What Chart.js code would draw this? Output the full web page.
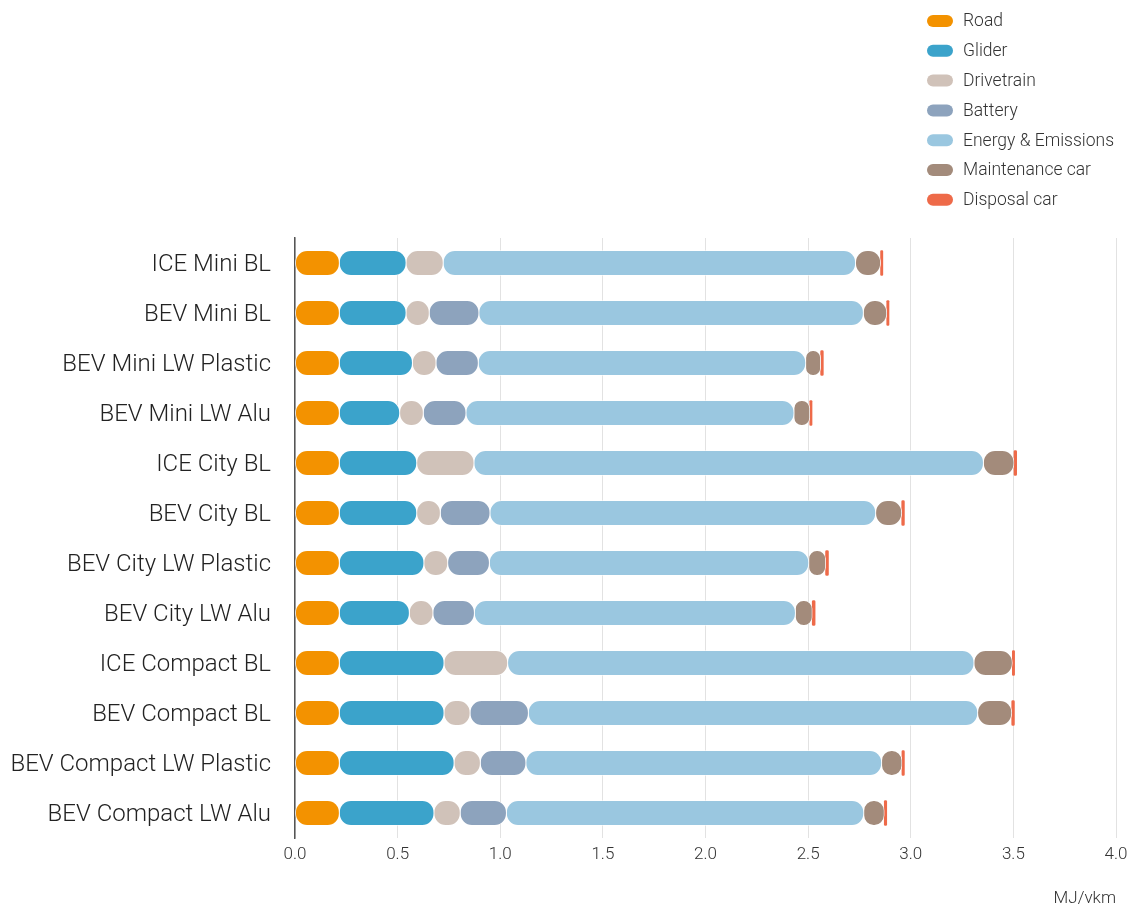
<!DOCTYPE html>
<html>
<head>
<meta charset="utf-8">
<script src="https://cdn.jsdelivr.net/npm/chart.js"></script>
<style>
  html, body { margin: 0; padding: 0; background: #fff; }
  #wrap { position: relative; width: 1129px; height: 907px; }
</style>
</head>
<body>
<div id="wrap"><canvas id="energyChart" width="1129" height="907"></canvas></div>
<script>
// vehicle variants (y axis)
const categories = [
  "ICE Mini BL", "BEV Mini BL", "BEV Mini LW Plastic", "BEV Mini LW Alu",
  "ICE City BL", "BEV City BL", "BEV City LW Plastic", "BEV City LW Alu",
  "ICE Compact BL", "BEV Compact BL", "BEV Compact LW Plastic", "BEV Compact LW Alu"
];

// MJ/vkm per life-cycle stage
const road        = [0.216, 0.216, 0.216, 0.216, 0.216, 0.216, 0.216, 0.216, 0.216, 0.216, 0.216, 0.216];
const glider      = [0.325, 0.325, 0.356, 0.294, 0.377, 0.377, 0.412, 0.341, 0.510, 0.510, 0.559, 0.461];
const drivetrain  = [0.181, 0.113, 0.115, 0.115, 0.279, 0.115, 0.116, 0.115, 0.310, 0.127, 0.128, 0.128];
const battery     = [0, 0.242, 0.206, 0.208, 0, 0.242, 0.203, 0.202, 0, 0.284, 0.222, 0.225];
const energy      = [2.009, 1.873, 1.595, 1.598, 2.482, 1.879, 1.556, 1.564, 2.272, 2.189, 1.733, 1.741];
const maintenance = [0.122, 0.114, 0.073, 0.077, 0.149, 0.127, 0.082, 0.082, 0.187, 0.166, 0.099, 0.100];
const disposal    = [0.011, 0.011, 0.013, 0.011, 0.013, 0.013, 0.014, 0.014, 0.011, 0.013, 0.012, 0.012];

const seriesNames = ["Road", "Glider", "Drivetrain", "Battery", "Energy & Emissions", "Maintenance car", "Disposal car"];
const seriesData = [road, glider, drivetrain, battery, energy, maintenance, disposal];
const seriesColors = ["#F39200", "#3BA3CB", "#D0C2B9", "#8DA3BD", "#9AC7E0", "#A38B7B", "#EE6A49"];

const FONT = "Roboto, 'Noto Sans', sans-serif";

function pill(ctx, x, y, w, h) {
  const r = h / 2;
  ctx.beginPath();
  ctx.moveTo(x + r, y);
  ctx.lineTo(x + w - r, y);
  ctx.arc(x + w - r, y + r, r, -Math.PI / 2, Math.PI / 2);
  ctx.lineTo(x + r, y + h);
  ctx.arc(x + r, y + r, r, Math.PI / 2, Math.PI * 1.5);
  ctx.closePath();
}

// vertical legend in the top right corner
const sideLegend = {
  id: "sideLegend",
  afterDraw(chart) {
    const ctx = chart.ctx;
    ctx.save();
    ctx.font = "300 17.5px " + FONT;
    ctx.textBaseline = "middle";
    ctx.textAlign = "left";
    chart.data.datasets.forEach((ds, i) => {
      const y = 21 + i * 29.8;
      ctx.fillStyle = ds.backgroundColor;
      pill(ctx, 927, y - 6, 26, 12);
      ctx.fill();
      ctx.fillStyle = "#333";
      ctx.fillText(ds.label, 963, y + 1);
    });
    ctx.restore();
  }
};

const canvas = document.getElementById("energyChart");
const full = { topLeft: 12, topRight: 12, bottomLeft: 12, bottomRight: 12 };

new Chart(canvas, {
  type: "bar",
  data: {
    labels: categories,
    datasets: seriesNames.map((name, i) => ({
      label: name,
      data: seriesData[i],
      backgroundColor: seriesColors[i],
      borderColor: "#ffffff",
      borderWidth: name === "Disposal car" ? 0 : 0.8,
      borderRadius: full,
      borderSkipped: false,
      barThickness: 25
    }))
  },
  options: {
    indexAxis: "y",
    responsive: false,
    animation: false,
    layout: {
      padding: { top: 238, right: 13, bottom: 0, left: 0 }
    },
    plugins: {
      legend: { display: false },
      tooltip: { enabled: false }
    },
    scales: {
      x: {
        stacked: true,
        min: 0,
        max: 4,
        ticks: {
          stepSize: 0.5,
          padding: 7,
          color: "#333",
          font: { family: FONT, size: 17, weight: 300 },
          callback: (v) => Number(v).toFixed(1)
        },
        afterFit: (scale) => {
          scale.height = 69;
          scale.paddingRight = 0;
          scale.paddingLeft = 0;
        },
        grid: { color: "#e2e2e2", lineWidth: 1, drawTicks: false },
        border: { display: false },
        title: {
          display: true,
          text: "MJ/vkm",
          align: "end",
          color: "#333",
          padding: { top: 0, bottom: 0 },
          font: { family: FONT, size: 17, weight: 300, lineHeight: 1 }
        }
      },
      y: {
        stacked: true,
        afterFit: (scale) => { scale.width = 295; },
        grid: { display: false, drawTicks: false },
        border: { display: true, color: "#555", width: 1.5 },
        ticks: {
          padding: 24,
          labelOffset: 2,
          color: "#222",
          font: { family: FONT, size: 24, weight: 300 }
        }
      }
    }
  },
  plugins: [sideLegend]
});
</script>
</body>
</html>
